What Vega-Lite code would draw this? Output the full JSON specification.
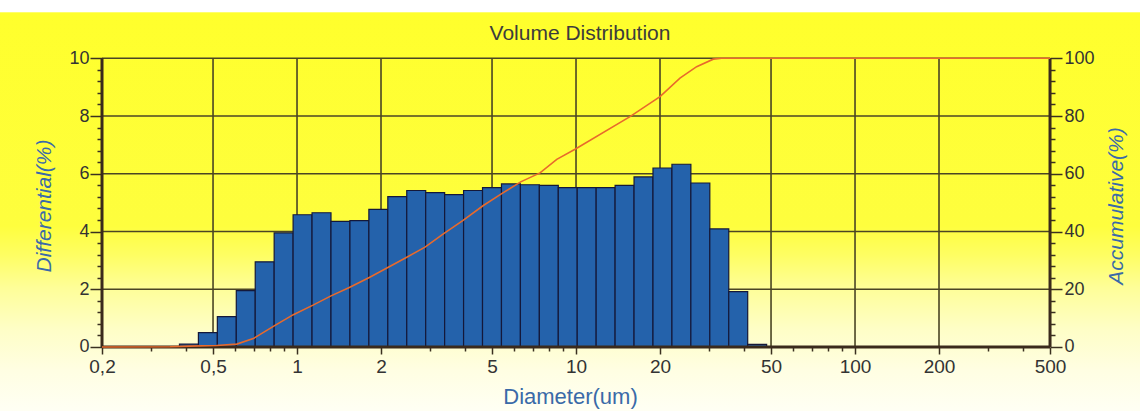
{
  "$schema": "https://vega.github.io/schema/vega-lite/v6.json",
  "width": 1140,
  "height": 411,
  "autosize": "none",
  "padding": 0,
  "title": {"text": "Volume Distribution", "offset": -44, "dx": 10, "font": "Liberation Sans", "fontSize": 21, "fontWeight": "normal", "color": "#3c3c3c", "anchor": "middle"},
  "config": {
    "view": {"stroke": null, "fill": {"gradient": "linear", "x1": 0, "y1": 0, "x2": 0, "y2": 1, "stops": [
      {"offset": 0, "color": "#ffffff"},
      {"offset": 0.029, "color": "#ffffff"},
      {"offset": 0.031, "color": "#ffff2c"},
      {"offset": 0.55, "color": "#fefe3e"},
      {"offset": 0.62, "color": "#fefe62"},
      {"offset": 0.70, "color": "#fefe98"},
      {"offset": 0.80, "color": "#fefec6"},
      {"offset": 0.90, "color": "#fffee2"},
      {"offset": 1, "color": "#fffff4"}
    ]}},
    "axis": {"labelFont": "Liberation Sans", "labelFontSize": 18, "labelColor": "#333333", "titleFont": "Liberation Sans", "titleFontSize": 21, "titleFontWeight": "normal", "titleColor": "#3a6aa8", "tickColor": "#3a3020", "tickWidth": 1.5, "domain": false, "grid": false},
    "axisX": {"labelFontSize": 19, "titleFontSize": 22}
  },
  "datasets": {
    "bars": [
      {"lo": 0.379, "hi": 0.4431, "v": 0.1},
      {"lo": 0.4431, "hi": 0.5181, "v": 0.5},
      {"lo": 0.5181, "hi": 0.6058, "v": 1.05},
      {"lo": 0.6058, "hi": 0.7083, "v": 1.95},
      {"lo": 0.7083, "hi": 0.8281, "v": 2.95},
      {"lo": 0.8281, "hi": 0.9682, "v": 3.95},
      {"lo": 0.9682, "hi": 1.132, "v": 4.58},
      {"lo": 1.132, "hi": 1.3236, "v": 4.65},
      {"lo": 1.3236, "hi": 1.5476, "v": 4.35},
      {"lo": 1.5476, "hi": 1.8094, "v": 4.38},
      {"lo": 1.8094, "hi": 2.1156, "v": 4.77},
      {"lo": 2.1156, "hi": 2.4736, "v": 5.21},
      {"lo": 2.4736, "hi": 2.8921, "v": 5.42},
      {"lo": 2.8921, "hi": 3.3815, "v": 5.35},
      {"lo": 3.3815, "hi": 3.9536, "v": 5.28},
      {"lo": 3.9536, "hi": 4.6226, "v": 5.42},
      {"lo": 4.6226, "hi": 5.4048, "v": 5.52},
      {"lo": 5.4048, "hi": 6.3193, "v": 5.65},
      {"lo": 6.3193, "hi": 7.3885, "v": 5.62},
      {"lo": 7.3885, "hi": 8.6387, "v": 5.6},
      {"lo": 8.6387, "hi": 10.1, "v": 5.52},
      {"lo": 10.1, "hi": 11.809, "v": 5.52},
      {"lo": 11.809, "hi": 13.807, "v": 5.52},
      {"lo": 13.807, "hi": 16.143, "v": 5.6},
      {"lo": 16.143, "hi": 18.875, "v": 5.89},
      {"lo": 18.875, "hi": 22.069, "v": 6.2},
      {"lo": 22.069, "hi": 25.803, "v": 6.33},
      {"lo": 25.803, "hi": 30.169, "v": 5.68},
      {"lo": 30.169, "hi": 35.273, "v": 4.09},
      {"lo": 35.273, "hi": 41.242, "v": 1.92},
      {"lo": 41.242, "hi": 48.22, "v": 0.09}
    ],
    "cum": [
      {"d": 0.2, "c": 0},
      {"d": 0.351, "c": 0.1},
      {"d": 0.413, "c": 0.3},
      {"d": 0.515, "c": 0.5},
      {"d": 0.608, "c": 1.0},
      {"d": 0.697, "c": 2.9},
      {"d": 0.834, "c": 7.5},
      {"d": 0.97, "c": 11.2},
      {"d": 1.141, "c": 14.5},
      {"d": 1.324, "c": 17.7},
      {"d": 1.54, "c": 20.6},
      {"d": 1.816, "c": 24.1},
      {"d": 2.124, "c": 27.6},
      {"d": 2.474, "c": 31.1},
      {"d": 2.876, "c": 34.6},
      {"d": 3.346, "c": 39.2},
      {"d": 3.926, "c": 43.8},
      {"d": 4.654, "c": 49.0},
      {"d": 5.416, "c": 53.1},
      {"d": 6.334, "c": 57.2},
      {"d": 7.43, "c": 60.3},
      {"d": 8.53, "c": 65.0},
      {"d": 9.92, "c": 68.5},
      {"d": 15.61, "c": 79.8},
      {"d": 20.0, "c": 86.7},
      {"d": 23.58, "c": 93.1},
      {"d": 27.06, "c": 97.1},
      {"d": 31.05, "c": 99.7},
      {"d": 33.28, "c": 100},
      {"d": 500, "c": 100}
    ],
    "vgrid": [{"g": 0.5}, {"g": 1}, {"g": 2}, {"g": 5}, {"g": 10}, {"g": 20}, {"g": 50}, {"g": 100}, {"g": 200}],
    "hgrid": [{"g": 2}, {"g": 4}, {"g": 6}, {"g": 8}, {"g": 10}],
    "sides": [{"g": 0.2}, {"g": 500}],
    "base": [{"g": 0}]
  },
  "layer": [
    {
      "data": {"name": "vgrid"},
      "mark": {"type": "rule", "color": "#4a4524", "strokeWidth": 1.6},
      "encoding": {
        "x": {"field": "g", "type": "quantitative", "title": "Diameter(um)", "scale": {"type": "log", "domain": [0.08618, 1050.6], "nice": false},
          "axis": {"orient": "bottom", "offset": -64, "titlePadding": 10, "values": [0.2, 0.3, 0.4, 0.5, 0.6, 0.7, 0.8, 0.9, 1, 2, 3, 4, 5, 6, 7, 8, 9, 10, 20, 30, 40, 50, 60, 70, 80, 90, 100, 200, 300, 400, 500], "tickSize": {"condition": {"test": "datum.value == 0.2 || datum.value == 0.5 || datum.value == 1 || datum.value == 2 || datum.value == 5 || datum.value == 10 || datum.value == 20 || datum.value == 50 || datum.value == 100 || datum.value == 200 || datum.value == 500", "value": 7}, "value": 4}, "labelExpr": "datum.value == 0.2 ? '0,2' : datum.value == 0.5 ? '0,5' : (datum.value == 1 || datum.value == 2 || datum.value == 5 || datum.value == 10 || datum.value == 20 || datum.value == 50 || datum.value == 100 || datum.value == 200 || datum.value == 500) ? toString(datum.value) : ''", "labelPadding": 3, "labelFlush": false, "labelOverlap": false}},
        "y": {"datum": 0, "type": "quantitative", "scale": {"domain": [-2.217, 12.019], "nice": false, "zero": false},
          "axis": {"orient": "left", "offset": -102, "title": "Differential(%)", "titleFontStyle": "italic", "titlePadding": 14,
            "values": [0, 0.4, 0.8, 1.2, 1.6, 2, 2.4, 2.8, 3.2, 3.6, 4, 4.4, 4.8, 5.2, 5.6, 6, 6.4, 6.8, 7.2, 7.6, 8, 8.4, 8.8, 9.2, 9.6, 10],
            "tickSize": {"condition": {"test": "datum.value % 2 == 0", "value": 12}, "value": 5},
            "labelExpr": "datum.value % 2 == 0 ? toString(datum.value) : ''",
            "labelPadding": 1, "labelFlush": false, "labelOverlap": false}},
        "y2": {"datum": 10}
      }
    },
    {
      "data": {"name": "hgrid"},
      "mark": {"type": "rule", "color": "#4a4524", "strokeWidth": 1.6},
      "encoding": {
        "y": {"field": "g", "type": "quantitative", "scale": {"domain": [-2.217, 12.019], "nice": false, "zero": false}, "axis": null},
        "x": {"datum": 0.2, "type": "quantitative", "title": "Diameter(um)", "scale": {"type": "log", "domain": [0.08618, 1050.6], "nice": false},
          "axis": {"orient": "bottom", "offset": -64, "titlePadding": 10, "values": [0.2, 0.3, 0.4, 0.5, 0.6, 0.7, 0.8, 0.9, 1, 2, 3, 4, 5, 6, 7, 8, 9, 10, 20, 30, 40, 50, 60, 70, 80, 90, 100, 200, 300, 400, 500], "tickSize": {"condition": {"test": "datum.value == 0.2 || datum.value == 0.5 || datum.value == 1 || datum.value == 2 || datum.value == 5 || datum.value == 10 || datum.value == 20 || datum.value == 50 || datum.value == 100 || datum.value == 200 || datum.value == 500", "value": 7}, "value": 4}, "labelExpr": "datum.value == 0.2 ? '0,2' : datum.value == 0.5 ? '0,5' : (datum.value == 1 || datum.value == 2 || datum.value == 5 || datum.value == 10 || datum.value == 20 || datum.value == 50 || datum.value == 100 || datum.value == 200 || datum.value == 500) ? toString(datum.value) : ''", "labelPadding": 3, "labelFlush": false, "labelOverlap": false}},
        "x2": {"datum": 500}
      }
    },
    {
      "data": {"name": "bars"},
      "mark": {"type": "rect", "color": "#2462ab", "stroke": "#14183a", "strokeWidth": 1.2},
      "encoding": {
        "x": {"field": "lo", "type": "quantitative", "title": "Diameter(um)", "scale": {"type": "log", "domain": [0.08618, 1050.6], "nice": false},
          "axis": {"orient": "bottom", "offset": -64, "titlePadding": 10, "values": [0.2, 0.3, 0.4, 0.5, 0.6, 0.7, 0.8, 0.9, 1, 2, 3, 4, 5, 6, 7, 8, 9, 10, 20, 30, 40, 50, 60, 70, 80, 90, 100, 200, 300, 400, 500], "tickSize": {"condition": {"test": "datum.value == 0.2 || datum.value == 0.5 || datum.value == 1 || datum.value == 2 || datum.value == 5 || datum.value == 10 || datum.value == 20 || datum.value == 50 || datum.value == 100 || datum.value == 200 || datum.value == 500", "value": 7}, "value": 4}, "labelExpr": "datum.value == 0.2 ? '0,2' : datum.value == 0.5 ? '0,5' : (datum.value == 1 || datum.value == 2 || datum.value == 5 || datum.value == 10 || datum.value == 20 || datum.value == 50 || datum.value == 100 || datum.value == 200 || datum.value == 500) ? toString(datum.value) : ''", "labelPadding": 3, "labelFlush": false, "labelOverlap": false}},
        "x2": {"field": "hi"},
        "y": {"field": "v", "type": "quantitative", "scale": {"domain": [-2.217, 12.019], "nice": false, "zero": false}, "axis": null},
        "y2": {"datum": 0}
      }
    },
    {
      "data": {"name": "sides"},
      "mark": {"type": "rule", "color": "#3a2a1c", "strokeWidth": 3},
      "encoding": {
        "x": {"field": "g", "type": "quantitative", "title": "Diameter(um)", "scale": {"type": "log", "domain": [0.08618, 1050.6], "nice": false},
          "axis": {"orient": "bottom", "offset": -64, "titlePadding": 10, "values": [0.2, 0.3, 0.4, 0.5, 0.6, 0.7, 0.8, 0.9, 1, 2, 3, 4, 5, 6, 7, 8, 9, 10, 20, 30, 40, 50, 60, 70, 80, 90, 100, 200, 300, 400, 500], "tickSize": {"condition": {"test": "datum.value == 0.2 || datum.value == 0.5 || datum.value == 1 || datum.value == 2 || datum.value == 5 || datum.value == 10 || datum.value == 20 || datum.value == 50 || datum.value == 100 || datum.value == 200 || datum.value == 500", "value": 7}, "value": 4}, "labelExpr": "datum.value == 0.2 ? '0,2' : datum.value == 0.5 ? '0,5' : (datum.value == 1 || datum.value == 2 || datum.value == 5 || datum.value == 10 || datum.value == 20 || datum.value == 50 || datum.value == 100 || datum.value == 200 || datum.value == 500) ? toString(datum.value) : ''", "labelPadding": 3, "labelFlush": false, "labelOverlap": false}},
        "y": {"datum": 0, "type": "quantitative", "scale": {"domain": [-2.217, 12.019], "nice": false, "zero": false}, "axis": null},
        "y2": {"datum": 10}
      }
    },
    {
      "data": {"name": "base"},
      "mark": {"type": "rule", "color": "#3a2a1c", "strokeWidth": 3},
      "encoding": {
        "y": {"field": "g", "type": "quantitative", "scale": {"domain": [-2.217, 12.019], "nice": false, "zero": false}, "axis": null},
        "x": {"datum": 0.2, "type": "quantitative", "title": "Diameter(um)", "scale": {"type": "log", "domain": [0.08618, 1050.6], "nice": false},
          "axis": {"orient": "bottom", "offset": -64, "titlePadding": 10, "values": [0.2, 0.3, 0.4, 0.5, 0.6, 0.7, 0.8, 0.9, 1, 2, 3, 4, 5, 6, 7, 8, 9, 10, 20, 30, 40, 50, 60, 70, 80, 90, 100, 200, 300, 400, 500], "tickSize": {"condition": {"test": "datum.value == 0.2 || datum.value == 0.5 || datum.value == 1 || datum.value == 2 || datum.value == 5 || datum.value == 10 || datum.value == 20 || datum.value == 50 || datum.value == 100 || datum.value == 200 || datum.value == 500", "value": 7}, "value": 4}, "labelExpr": "datum.value == 0.2 ? '0,2' : datum.value == 0.5 ? '0,5' : (datum.value == 1 || datum.value == 2 || datum.value == 5 || datum.value == 10 || datum.value == 20 || datum.value == 50 || datum.value == 100 || datum.value == 200 || datum.value == 500) ? toString(datum.value) : ''", "labelPadding": 3, "labelFlush": false, "labelOverlap": false}},
        "x2": {"datum": 500}
      }
    },
    {
      "data": {"name": "cum"},
      "mark": {"type": "line", "color": "#e86a2c", "strokeWidth": 1.6},
      "encoding": {
        "x": {"field": "d", "type": "quantitative", "title": "Diameter(um)", "scale": {"type": "log", "domain": [0.08618, 1050.6], "nice": false},
          "axis": {"orient": "bottom", "offset": -64, "titlePadding": 10, "values": [0.2, 0.3, 0.4, 0.5, 0.6, 0.7, 0.8, 0.9, 1, 2, 3, 4, 5, 6, 7, 8, 9, 10, 20, 30, 40, 50, 60, 70, 80, 90, 100, 200, 300, 400, 500], "tickSize": {"condition": {"test": "datum.value == 0.2 || datum.value == 0.5 || datum.value == 1 || datum.value == 2 || datum.value == 5 || datum.value == 10 || datum.value == 20 || datum.value == 50 || datum.value == 100 || datum.value == 200 || datum.value == 500", "value": 7}, "value": 4}, "labelExpr": "datum.value == 0.2 ? '0,2' : datum.value == 0.5 ? '0,5' : (datum.value == 1 || datum.value == 2 || datum.value == 5 || datum.value == 10 || datum.value == 20 || datum.value == 50 || datum.value == 100 || datum.value == 200 || datum.value == 500) ? toString(datum.value) : ''", "labelPadding": 3, "labelFlush": false, "labelOverlap": false}},
        "y": {"field": "c", "type": "quantitative", "scale": {"domain": [-22.17, 120.19], "nice": false, "zero": false},
          "axis": {"orient": "right", "offset": -90, "title": "Accumulative(%)", "titleFontStyle": "italic", "titleAngle": 270, "titlePadding": 32,
            "values": [0, 4, 8, 12, 16, 20, 24, 28, 32, 36, 40, 44, 48, 52, 56, 60, 64, 68, 72, 76, 80, 84, 88, 92, 96, 100],
            "tickSize": {"condition": {"test": "datum.value % 20 == 0", "value": 12}, "value": 5},
            "labelExpr": "datum.value % 20 == 0 ? toString(datum.value) : ''",
            "labelPadding": 2, "labelFlush": false, "labelOverlap": false}}
      }
    }
  ],
  "resolve": {"scale": {"y": "independent"}, "axis": {"y": "independent"}}
}
